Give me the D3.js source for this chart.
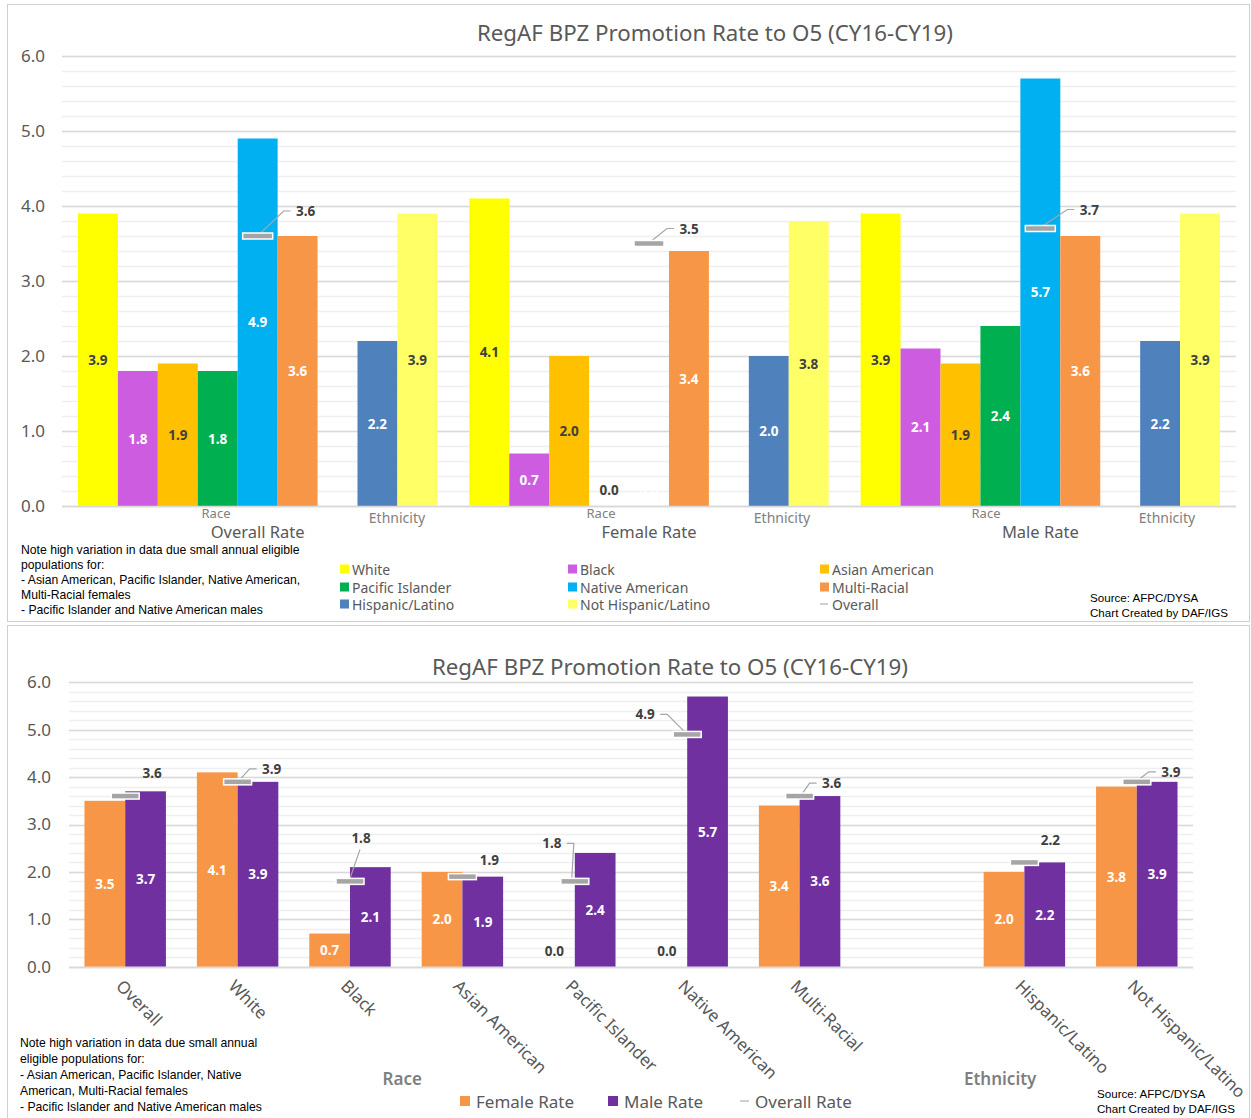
<!DOCTYPE html>
<html><head><meta charset="utf-8">
<script src="https://cdn.jsdelivr.net/npm/d3@7"></script>
<style>body{margin:0;background:#fff} svg{display:block}</style>
</head><body><svg id="c" width="1251" height="1118"></svg>
<script>
// ---------- DATA ----------
const chartTitle = "RegAF BPZ Promotion Rate to O5 (CY16-CY19)";
const races = ["White","Black","Asian American","Pacific Islander","Native American","Multi-Racial"];
const ethnicities = ["Hispanic/Latino","Not Hispanic/Latino"];
const panels = ["Overall Rate","Female Rate","Male Rate"];
const overallRates = [3.9,1.8,1.9,1.8,4.9,3.6,2.2,3.9];
const femaleRates  = [4.1,0.7,2.0,0.0,0.0,3.4,2.0,3.8];
const maleRates    = [3.9,2.1,1.9,2.4,5.7,3.6,2.2,3.9];
const panelOverall = [3.6,3.5,3.7];
const yTickValues = [0,1,2,3,4,5,6];
const yTickLabels = ["0.0","1.0","2.0","3.0","4.0","5.0","6.0"];
const bottomCategories = ["Overall","White","Black","Asian American","Pacific Islander","Native American","Multi-Racial","Hispanic/Latino","Not Hispanic/Latino"];
const bottomFemale  = [3.5,4.1,0.7,2.0,0.0,0.0,3.4,2.0,3.8];
const bottomMale    = [3.7,3.9,2.1,1.9,2.4,5.7,3.6,2.2,3.9];
const bottomOverall = [3.6,3.9,1.8,1.9,1.8,4.9,3.6,2.2,3.9];
const bottomSeries = ["Female Rate","Male Rate"];
const noteTop = ["Note high variation in data due small annual eligible","populations for:","- Asian American, Pacific Islander, Native American,","Multi-Racial females","- Pacific Islander and Native American males"];
const noteBottom = ["Note high variation in data due small annual","eligible populations for:","- Asian American, Pacific Islander, Native","American, Multi-Racial females","- Pacific Islander and Native American males"];
const sourceLines = ["Source: AFPC/DYSA","Chart Created by DAF/IGS"];

// ---------- STYLE / LAYOUT ----------
const seriesNames = races.concat(ethnicities);
const seriesColors = {"White":"#FFFF00","Black":"#CD5CE0","Asian American":"#FFC000","Pacific Islander":"#00B050",
  "Native American":"#00B0F0","Multi-Racial":"#F79646","Hispanic/Latino":"#4F81BD","Not Hispanic/Latino":"#FFFF66"};
const darkLabelSeries = ["White","Asian American","Not Hispanic/Latino"];
const hiddenZeroSeries = ["Native American"];
const bottomColors = {"Female Rate":"#F79646","Male Rate":"#7030A0"};
const markerColor = "#A5A5A5";
const topLabelOffsets = [[48,-25],[40,-15],[49,-19]];
const bottomLabelOffsets = [[27,-23],[34,-13],[11,-43],[27,-17],[-23,-38],[-42,-20],[32,-13],[26,-22],[34,-10]];
const bottomLeader = [false,true,true,false,true,true,true,false,true];
const FONT = "'Noto Sans', 'Open Sans', sans-serif";
const NOTEFONT = "'Liberation Sans Narrow', 'Liberation Sans', sans-serif";
const GRAY = "#595959", DARK = "#404040";

const svg = d3.select("#c");
svg.append("rect").attr("width",1251).attr("height",1118).attr("fill","#fff");
svg.append("rect").attr("x",7.5).attr("y",4.5).attr("width",1242).attr("height",617).attr("fill","none").attr("stroke","#d0d0d0");
svg.append("rect").attr("x",7.5).attr("y",625.5).attr("width",1242).attr("height",500).attr("fill","none").attr("stroke","#d0d0d0");

function leader(g, mx, my, dx, dy){
  let p;
  if (Math.abs(dx) < 15) p = `M${mx},${my-3}L${mx+dx-1},${my+dy+11}`;
  else { const s = Math.sign(dx); p = `M${mx+3*s},${my-3}L${mx+dx-22*s},${my+dy}L${mx+dx-15*s},${my+dy}`; }
  g.append("path").attr("d",p).attr("fill","none").attr("stroke",markerColor).attr("stroke-width",1.2);
}

function grid(g, y, x0, x1){
  g.selectAll(".minor").data(y.ticks(30)).join("line")
    .attr("x1",x0).attr("x2",x1).attr("y1",d=>Math.round(y(d))+0.5).attr("y2",d=>Math.round(y(d))+0.5)
    .attr("stroke","#efefef").attr("stroke-width",1.5);
  g.selectAll(".major").data(yTickValues).join("line")
    .attr("x1",x0).attr("x2",x1).attr("y1",d=>Math.round(y(d))+0.5).attr("y2",d=>Math.round(y(d))+0.5)
    .attr("stroke","#d9d9d9").attr("stroke-width",1.5);
}
function yAxis(g, y, xAxis, pad){
  const ax = g.append("g").attr("transform",`translate(${xAxis},0)`)
    .call(d3.axisLeft(y).tickValues(yTickValues).tickFormat((d,i)=>yTickLabels[i]).tickSize(0).tickPadding(pad));
  ax.select(".domain").remove();
  ax.selectAll("text").attr("font-family",FONT).attr("font-size",17).attr("fill",GRAY);
}

// ================= TOP CHART =================
(function(){
  const g = svg.append("g");
  const y = d3.scaleLinear().domain([0,6]).range([506,56]);
  const xPanel = d3.scaleBand().domain(panels).range([62,1236]);
  const xSlot = d3.scaleBand().domain(races.concat(["_gap"], ethnicities)).range([0,xPanel.bandwidth()]).paddingOuter(0.4).paddingInner(0);
  const xGroupLabel = d3.scaleBand().domain(panels).range([62,1217]);
  grid(g, y, 62, 1236);
  yAxis(g, y, 62, 17);
  g.append("text").attr("x",715).attr("y",32).attr("text-anchor","middle").attr("dominant-baseline","central")
    .attr("font-family",FONT).attr("font-size",22.3).attr("fill",GRAY).text(chartTitle);
  const rows = [overallRates, femaleRates, maleRates];
  panels.forEach((p,pi)=>{
    const px = xPanel(p);
    const data = seriesNames.map((s,i)=>({s, v: rows[pi][i]}));
    g.append("g").selectAll("rect").data(data.filter(d=>d.v>0)).join("rect")
      .attr("x",d=>px+xSlot(d.s)).attr("width",xSlot.bandwidth())
      .attr("y",d=>y(d.v)).attr("height",d=>y(0)-y(d.v)).attr("fill",d=>seriesColors[d.s]);
    g.append("g").selectAll("text").data(data).join("text")
      .attr("x",d=>px+xSlot(d.s)+xSlot.bandwidth()/2)
      .attr("y",d=>d.v>0 ? (y(d.v)+y(0))/2 : y(0)-16)
      .attr("text-anchor","middle").attr("dominant-baseline","central")
      .attr("font-family",FONT).attr("font-size",13.5).attr("font-weight","bold")
      .attr("fill",d=> d.v===0 ? (hiddenZeroSeries.includes(d.s) ? "#fff" : DARK) : (darkLabelSeries.includes(d.s) ? DARK : "#fff"))
      .text(d=>d3.format(".1f")(d.v));
    // overall marker
    const mx = px + xPanel.bandwidth()/2, my = y(panelOverall[pi]);
    const [dx,dy] = topLabelOffsets[pi];
    leader(g, mx, my, dx, dy);
    g.append("rect").attr("x",mx-15).attr("y",my-3).attr("width",30).attr("height",6)
      .attr("fill",markerColor).attr("stroke","#fff").attr("stroke-width",1.5);
    g.append("text").attr("x",mx+dx).attr("y",my+dy).attr("text-anchor","middle").attr("dominant-baseline","central")
      .attr("font-family",FONT).attr("font-size",13.5).attr("font-weight","bold").attr("fill",DARK)
      .text(d3.format(".1f")(panelOverall[pi]));
    // category labels
    const lx = xGroupLabel(p), lw = xGroupLabel.bandwidth();
    g.append("text").attr("x",lx+0.4*lw).attr("y",513).attr("text-anchor","middle").attr("dominant-baseline","central")
      .attr("font-family",FONT).attr("font-size",13).attr("fill","#808080").text("Race");
    g.append("text").attr("x",lx+0.87*lw).attr("y",517.5).attr("text-anchor","middle").attr("dominant-baseline","central")
      .attr("font-family",FONT).attr("font-size",14).attr("fill","#808080").text("Ethnicity");
    g.append("text").attr("x",px+xPanel.bandwidth()/2).attr("y",531).attr("text-anchor","middle").attr("dominant-baseline","central")
      .attr("font-family",FONT).attr("font-size",16.5).attr("fill",GRAY).text(p);
  });
  // baseline
  g.append("line").attr("x1",62).attr("x2",1236).attr("y1",Math.round(y(0))+0.5).attr("y2",Math.round(y(0))+0.5).attr("stroke","#d9d9d9").attr("stroke-width",1.5);
  // legend
  const legItems = seriesNames.concat(["Overall"]);
  const colX = [340,568,820], rowY = [569,587,604];
  legItems.forEach((s,i)=>{
    const cx = colX[i%3], cy = rowY[Math.floor(i/3)];
    if (s==="Overall") g.append("line").attr("x1",cx).attr("x2",cx+8).attr("y1",cy).attr("y2",cy).attr("stroke","#b0b0b0").attr("stroke-width",1.2);
    else g.append("rect").attr("x",cx).attr("y",cy-4.5).attr("width",9).attr("height",9).attr("fill",seriesColors[s]);
    g.append("text").attr("x",cx+12).attr("y",cy).attr("dominant-baseline","central")
      .attr("font-family",FONT).attr("font-size",14).attr("fill",GRAY).text(s);
  });
  noteTop.forEach((t,i)=> g.append("text").attr("x",21).attr("y",549.5+i*15.2).attr("dominant-baseline","central")
    .attr("font-family",NOTEFONT).attr("font-size",12.2).attr("fill","#000").text(t));
  sourceLines.forEach((t,i)=> g.append("text").attr("x",1090).attr("y",597+i*15.5).attr("dominant-baseline","central")
    .attr("font-family",NOTEFONT).attr("font-size",11.6).attr("fill","#000").text(t));
})();

// ================= BOTTOM CHART =================
(function(){
  const g = svg.append("g");
  const y = d3.scaleLinear().domain([0,6]).range([966.7,682.3]);
  const slots = bottomCategories.slice(0,7).concat(["_gap"], bottomCategories.slice(7));
  const x0 = d3.scaleBand().domain(slots).range([69,1193]);
  const x1 = d3.scaleBand().domain(bottomSeries).range([0,x0.bandwidth()]).paddingOuter(0.38).paddingInner(0);
  grid(g, y, 69, 1193);
  yAxis(g, y, 69, 18);
  g.append("text").attr("x",670).attr("y",666).attr("text-anchor","middle").attr("dominant-baseline","central")
    .attr("font-family",FONT).attr("font-size",22.3).attr("fill",GRAY).text(chartTitle);
  const data = [];
  bottomCategories.forEach((c,i)=>{
    data.push({c, s:"Female Rate", v:bottomFemale[i]});
    data.push({c, s:"Male Rate", v:bottomMale[i]});
  });
  g.append("g").selectAll("rect").data(data.filter(d=>d.v>0)).join("rect")
    .attr("x",d=>x0(d.c)+x1(d.s)).attr("width",x1.bandwidth())
    .attr("y",d=>y(d.v)).attr("height",d=>y(0)-y(d.v)).attr("fill",d=>bottomColors[d.s]);
  g.append("line").attr("x1",69).attr("x2",1193).attr("y1",Math.round(y(0))+0.5).attr("y2",Math.round(y(0))+0.5).attr("stroke","#d9d9d9").attr("stroke-width",1.5);
  g.append("g").selectAll("text").data(data).join("text")
    .attr("x",d=>x0(d.c)+x1(d.s)+x1.bandwidth()/2)
    .attr("y",d=>d.v>0 ? (y(d.v)+y(0))/2 : y(0)-16)
    .attr("text-anchor","middle").attr("dominant-baseline","central")
    .attr("font-family",FONT).attr("font-size",13.5).attr("font-weight","bold")
    .attr("fill",d=>d.v===0 ? DARK : "#fff").text(d=>d3.format(".1f")(d.v));
  bottomCategories.forEach((c,i)=>{
    const mx = x0(c)+x0.bandwidth()/2, my = y(bottomOverall[i]);
    const [dx,dy] = bottomLabelOffsets[i];
    if (bottomLeader[i]) leader(g, mx, my, dx, dy);
    g.append("rect").attr("x",mx-14).attr("y",my-3).attr("width",28).attr("height",6)
      .attr("fill",markerColor).attr("stroke","#fff").attr("stroke-width",1.5);
    g.append("text").attr("x",mx+dx).attr("y",my+dy).attr("text-anchor","middle").attr("dominant-baseline","central")
      .attr("font-family",FONT).attr("font-size",13.5).attr("font-weight","bold").attr("fill",DARK)
      .text(d3.format(".1f")(bottomOverall[i]));
    // x labels
    g.append("text").attr("transform",`translate(${mx},${977}) rotate(45)`)
      .attr("dominant-baseline","hanging").attr("font-family",FONT).attr("font-size",17).attr("fill",GRAY).text(c);
  });
  g.append("text").attr("x",x0("Asian American")-4).attr("y",1078).attr("text-anchor","middle").attr("dominant-baseline","central")
    .attr("font-family",FONT).attr("font-size",17).attr("font-weight","600").attr("fill","#7f7f7f").text("Race");
  g.append("text").attr("x",x0("Hispanic/Latino")+32).attr("y",1078).attr("text-anchor","middle").attr("dominant-baseline","central")
    .attr("font-family",FONT).attr("font-size",17).attr("font-weight","600").attr("fill","#7f7f7f").text("Ethnicity");
  // legend
  const legX = [460,608,740];
  bottomSeries.concat(["Overall Rate"]).forEach((s,i)=>{
    const lx = legX[i], ly = 1101;
    if (s==="Overall Rate") g.append("line").attr("x1",lx).attr("x2",lx+9).attr("y1",ly).attr("y2",ly).attr("stroke","#b0b0b0").attr("stroke-width",1.2);
    else g.append("rect").attr("x",lx).attr("y",ly-5).attr("width",10).attr("height",10).attr("fill",bottomColors[s]);
    g.append("text").attr("x",lx+(s==="Overall Rate"?15:16)).attr("y",ly).attr("dominant-baseline","central")
      .attr("font-family",FONT).attr("font-size",17).attr("fill",GRAY).text(s);
  });
  noteBottom.forEach((t,i)=> g.append("text").attr("x",20).attr("y",1043+i*16).attr("dominant-baseline","central")
    .attr("font-family",NOTEFONT).attr("font-size",12.2).attr("fill","#000").text(t));
  sourceLines.forEach((t,i)=> g.append("text").attr("x",1097).attr("y",1093+i*15.5).attr("dominant-baseline","central")
    .attr("font-family",NOTEFONT).attr("font-size",11.6).attr("fill","#000").text(t));
})();
</script></body></html>
